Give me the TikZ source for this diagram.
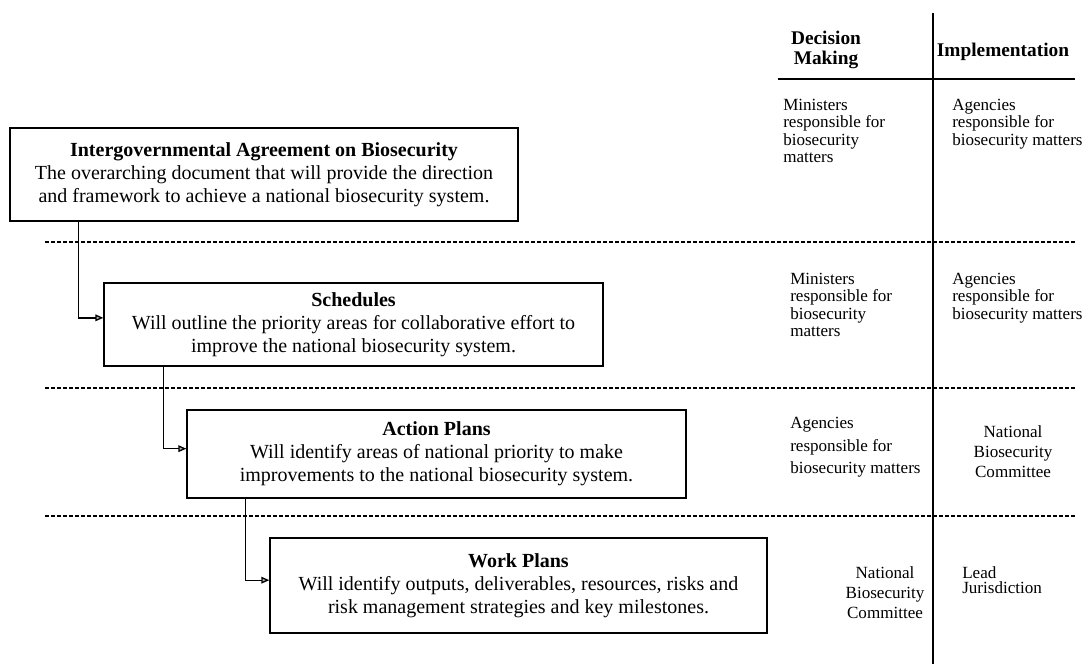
\documentclass[tikz,border=0pt]{standalone}
\usepackage{fontspec}
\setmainfont{Liberation Serif}
\usetikzlibrary{arrows.meta}

\tikzset{
  planbox/.style={draw, line width=1pt, inner sep=0pt, align=center,
    font=\fontsize{15}{17.25}\selectfont},
  rowline/.style={line width=1.3pt, dash pattern=on 3pt off 1.5pt},
  flow/.style={line width=1pt, -{Triangle[length=6pt,width=5pt,fill=gray!60]}},
  coltext/.style={inner sep=0pt, align=left, anchor=north west,
    font=\fontsize{12.8}{13}\selectfont},
  colhead/.style={inner sep=0pt, align=center, font=\bfseries\fontsize{14.5}{15}\selectfont},
}

\begin{document}
\begin{tikzpicture}[x=0.75pt, y=-0.75pt]
    \useasboundingbox (0,0) rectangle (1089,664);
    % the four boxes
    \node[planbox, minimum width=381pt, minimum height=69.75pt] (iga) at (264,174.5)
        {\textbf{Intergovernmental Agreement on Biosecurity}\\
         The overarching document that will provide the direction\\
         and framework to achieve a national biosecurity system.};
    \node[planbox, minimum width=374.25pt, minimum height=62.25pt] (sched) at (353.5,324.5)
        {\textbf{Schedules}\\
         Will outline the priority areas for collaborative effort to\\
         improve the national biosecurity system.};
    \node[planbox, minimum width=374.25pt, minimum height=66pt] (action) at (436.5,454)
        {\textbf{Action Plans}\\
         Will identify areas of national priority to make\\
         improvements to the national biosecurity system.};
    \node[planbox, minimum width=372.75pt, minimum height=71.25pt] (work) at (518.5,585.5)
        {\textbf{Work Plans}\\
         Will identify outputs, deliverables, resources, risks and\\
         risk management strategies and key milestones.};
    \draw[flow] (iga.south west) ++(69,0) |- ([yshift=5pt]sched.west);
    \draw[flow] (sched.south west) ++(60,0) |- ([yshift=4pt]action.west);
    \draw[flow] (action.south west) ++(59,0) |- ([yshift=4pt]work.west);
    % row separators
    \draw[rowline] (45,242) -- (1075,242);
    \draw[rowline] (45,388) -- (1075,388);
    \draw[rowline] (45,516) -- (1075,516);
    % columns
    \draw[line width=1.3pt] (933,13) -- (933,664);
    \draw[line width=1pt] (778,79) -- (1075,79);
    \node[colhead] (dec) at (826,50) {Decision\\Making};
    \node[colhead] (impl) at (1003,52) {Implementation};
    \node[coltext] (dm1) at (783,99) {Ministers\\responsible for\\biosecurity\\matters};
    \node[coltext] (im1) at (952,99) {Agencies\\responsible for\\biosecurity matters};
    \node[coltext] (dm2) at (790,273) {Ministers\\responsible for\\biosecurity\\matters};
    \node[coltext] (im2) at (952,273) {Agencies\\responsible for\\biosecurity matters};
    \node[coltext, font=\fontsize{12.8}{17}\selectfont] (dm3) at (790,417)
        {Agencies\\responsible for\\biosecurity matters};
    \node[coltext, anchor=north, align=center, font=\fontsize{12.8}{15}\selectfont] (im3) at (1013,425)
        {National\\Biosecurity\\Committee};
    \node[coltext, anchor=north, align=center, font=\fontsize{12.8}{15}\selectfont] (dm4) at (885,566)
        {National\\Biosecurity\\Committee};
    \node[coltext, font=\fontsize{12.8}{11.5}\selectfont] (im4) at (962,566)
        {Lead\\Jurisdiction};
\end{tikzpicture}
\end{document}
